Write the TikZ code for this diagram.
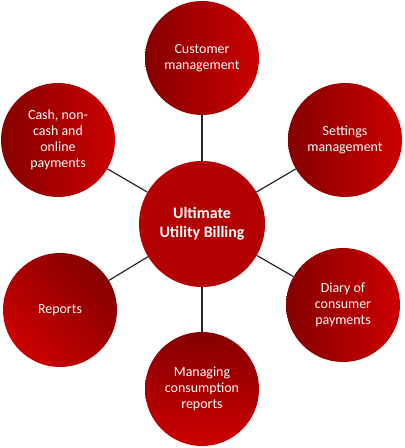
\documentclass[tikz,border=0pt]{standalone}
\usepackage{fontspec}
\setmainfont{Carlito}
\usetikzlibrary{positioning}
\definecolor{darkred}{HTML}{850000}
\definecolor{brightred}{HTML}{CC0000}
\definecolor{hubred}{HTML}{B30000}

\begin{document}
\begin{tikzpicture}[x=1bp, y=-1bp,
    topic/.style={circle, minimum size=114bp, inner sep=0pt, align=center, text=white,
        font=\fontsize{14}{16}\selectfont, shading=axis, left color=darkred, right color=brightred},
    hub/.style={circle, minimum size=126bp, inner sep=0pt, align=center, text=white,
        fill=hubred, font=\fontsize{16}{19}\selectfont\bfseries},
    spoke/.style={draw=black!85, line width=1.2pt}]
\useasboundingbox (0,0) rectangle (404,448);

\node[hub] (ub) at (202,224) {Ultimate\\Utility Billing};

\node[topic] (cust) at (202,58) {Customer\\management};
\node[topic] (sett) at (345,140) {Settings\\management};
\node[topic] (diary) at (343,305) {Diary of\\consumer\\payments};
\node[topic, top color=darkred, bottom color=brightred] (cons) at (202,389) {Managing\\consumption\\reports};
\node[topic, top color=darkred, bottom color=brightred, shading angle=-45] (rep) at (60,310) {Reports};
\node[topic] (cash) at (58,140) {Cash, non-\\cash and\\online\\payments};

% spokes from the hub
\draw[spoke] (ub) -- (cust);
\draw[spoke] (ub) -- (sett);
\draw[spoke] (ub) -- (diary);
\draw[spoke] (ub) -- (cons);
\draw[spoke] (ub) -- (rep);
\draw[spoke] (ub) -- (cash);
\end{tikzpicture}
\end{document}
